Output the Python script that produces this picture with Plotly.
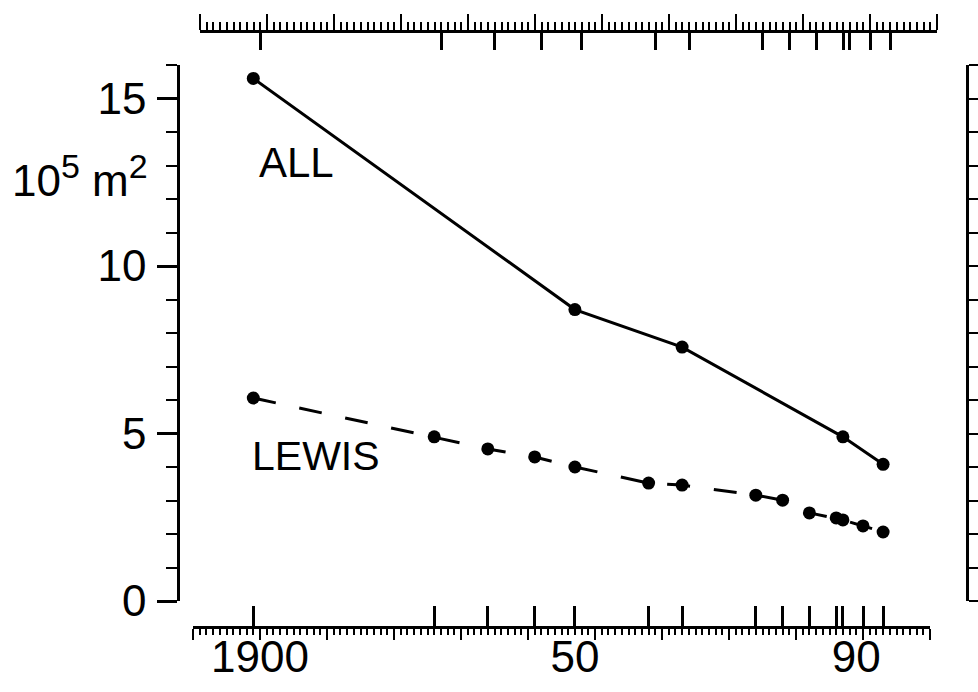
import plotly.graph_objects as go

# ---- data ----
all_years = [1899, 1947, 1963, 1987, 1993]
all_area = [15.6, 8.7, 7.58, 4.9, 4.08]

lewis_years = [1899, 1926, 1934, 1941, 1947, 1958, 1963, 1974, 1978, 1982, 1986, 1987, 1990, 1993]
lewis_area = [6.06, 4.9, 4.54, 4.3, 4.0, 3.52, 3.46, 3.16, 3.01, 2.63, 2.48, 2.42, 2.24, 2.06]

x_label_vals = [1900, 1947, 1989]
x_label_text = ["1900", "50", "90"]
decades = list(range(1890, 2001, 10))
y_major = [0, 5, 10, 15]
y_units = list(range(0, 17))
y_caps = [0, 16]

X_RANGE = [1890, 2000]
Y_RANGE = [0, 16]

FONT = "Liberation Sans, Arial, Helvetica, sans-serif"
BLACK = "black"

survey_years = sorted(set(all_years) | set(lewis_years))
inside_ticks = sorted(set(survey_years) | set(X_RANGE))

fig = go.Figure()

fig.add_trace(go.Scatter(
    x=all_years, y=all_area, mode="lines+markers",
    line=dict(color=BLACK, width=3),
    marker=dict(color=BLACK, size=13),
    showlegend=False, xaxis="x", yaxis="y"))

fig.add_trace(go.Scatter(
    x=lewis_years, y=lewis_area, mode="lines+markers",
    line=dict(color=BLACK, width=3, dash="23px,24px"),
    marker=dict(color=BLACK, size=13),
    showlegend=False, xaxis="x", yaxis="y"))

# invisible helper traces so every decorative axis gets drawn
for xa, ya in [("x2", "y"), ("x3", "y"), ("x4", "y"), ("x5", "y"),
               ("x", "y2"), ("x", "y3"), ("x", "y4")]:
    fig.add_trace(go.Scatter(
        x=[X_RANGE[0]], y=[Y_RANGE[0]], mode="markers",
        marker=dict(opacity=0, size=1), showlegend=False, hoverinfo="skip",
        xaxis=xa, yaxis=ya))

L, R, T, B = 178, 11, 31, 65
W, H = 978, 692
pw, ph = W - L - R, H - T - B

def fx(px):
    return (px - L) / pw

def fy(py):
    return (H - B - py) / ph

bottom_dom = [fx(193), fx(930)]
top_dom = [fx(200), fx(937)]
y_dom = [fy(601), fy(65)]

common_x = dict(range=X_RANGE, showgrid=False, zeroline=False, fixedrange=True, automargin=False)
common_y = dict(range=Y_RANGE, showgrid=False, zeroline=False, fixedrange=True, automargin=False)

TICKFONT = dict(size=44, family=FONT, color=BLACK)

fig.update_layout(
    width=W, height=H,
    margin=dict(l=L, r=R, t=T, b=B, autoexpand=False),
    paper_bgcolor="white", plot_bgcolor="rgba(0,0,0,0)",
    font=dict(family=FONT, color=BLACK, size=40),
    # bottom axis: line, decade ticks and yearly minor ticks (outside)
    xaxis=dict(**common_x, domain=bottom_dom, anchor="free", position=0, side="bottom",
               showline=True, linecolor=BLACK, linewidth=2.5,
               tickmode="array", tickvals=decades, ticks="outside", ticklen=11,
               tickwidth=2, tickcolor=BLACK, showticklabels=False,
               minor=dict(tickmode="linear", tick0=X_RANGE[0], dtick=1, ticks="outside",
                          ticklen=6, tickwidth=1.5, tickcolor=BLACK, showgrid=False)),
    # bottom axis: survey-year ticks (inside)
    xaxis3=dict(**common_x, overlaying="x", anchor="free", position=0, side="bottom",
                showline=False, tickmode="array", tickvals=inside_ticks, ticks="inside",
                ticklen=21, tickwidth=2.5, tickcolor=BLACK, showticklabels=False),
    # bottom axis labels
    xaxis5=dict(**common_x, overlaying="x", anchor="free", position=0, side="bottom",
                showline=False, tickmode="array", tickvals=x_label_vals,
                ticktext=x_label_text, ticks="", showticklabels=True,
                ticklabelstandoff=0, tickfont=TICKFONT),
    # top axis
    xaxis2=dict(**common_x, domain=top_dom, anchor="free", position=1, side="top",
                showline=True, linecolor=BLACK, linewidth=2.5,
                tickmode="array", tickvals=decades, ticks="outside", ticklen=16,
                tickwidth=2, tickcolor=BLACK, showticklabels=False,
                minor=dict(tickmode="linear", tick0=X_RANGE[0], dtick=1, ticks="outside",
                           ticklen=8, tickwidth=1.5, tickcolor=BLACK, showgrid=False)),
    xaxis4=dict(**common_x, overlaying="x2", anchor="free", position=1, side="top",
                showline=False, tickmode="array", tickvals=inside_ticks, ticks="inside",
                ticklen=18, tickwidth=2.5, tickcolor=BLACK, showticklabels=False),
    # left axis
    yaxis=dict(**common_y, domain=y_dom, anchor="free", position=0, side="left",
               showline=True, linecolor=BLACK, linewidth=2.5,
               tickmode="array", tickvals=y_major, ticks="outside", ticklen=20,
               tickwidth=2.5, tickcolor=BLACK, ticklabelstandoff=2,
               tickfont=TICKFONT,
               minor=dict(tickmode="array", tickvals=y_units, ticks="outside",
                          ticklen=11, tickwidth=2, tickcolor=BLACK, showgrid=False)),
    yaxis3=dict(**common_y, overlaying="y", anchor="free", position=0, side="left",
                showline=False, tickmode="array", tickvals=y_caps, ticks="inside",
                ticklen=16, tickwidth=2.5, tickcolor=BLACK, showticklabels=False),
    # right axis
    yaxis2=dict(**common_y, overlaying="y", anchor="free", position=1, side="right",
                showline=True, linecolor=BLACK, linewidth=2.5,
                tickmode="array", tickvals=y_units, ticks="outside", ticklen=12,
                tickwidth=2, tickcolor=BLACK, showticklabels=False),
    yaxis4=dict(**common_y, overlaying="y", anchor="free", position=1, side="right",
                showline=False, tickmode="array", tickvals=y_caps, ticks="inside",
                ticklen=14, tickwidth=2.5, tickcolor=BLACK, showticklabels=False),
    annotations=[
        dict(text="ALL", x=1905.4, y=13.1, xref="x", yref="y", showarrow=False,
             font=dict(size=42, family=FONT, color=BLACK), xanchor="center", yanchor="middle"),
        dict(text="LEWIS", x=1908.3, y=4.33, xref="x", yref="y", showarrow=False,
             font=dict(size=41, family=FONT, color=BLACK), xanchor="center", yanchor="middle"),
        dict(text="10<sup><span style='font-size:34px'>5</span></sup> m<sup><span style='font-size:34px'>2</span></sup>",
             x=fx(80), y=12.7, xref="paper", yref="y",
             showarrow=False, font=dict(size=44, family=FONT, color=BLACK),
             xanchor="center", yanchor="middle"),
    ],
)

fig.write_html("out.html", config={"displayModeBar": False},
               post_script="document.body.style.margin='0px';")
